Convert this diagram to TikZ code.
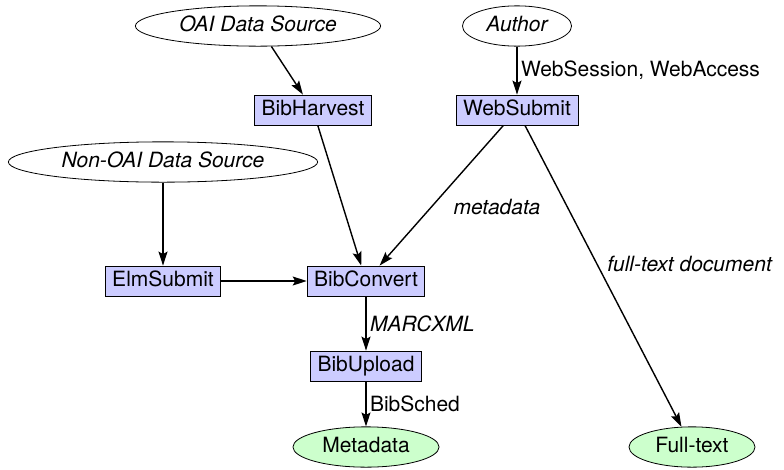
\documentclass[tikz,border=0pt]{standalone}
\usepackage{fontspec}
\setmainfont{TeX Gyre Heros}
\usetikzlibrary{shapes.geometric,arrows.meta}

\definecolor{modblue}{RGB}{204,204,255}
\definecolor{storegreen}{RGB}{204,255,204}
\newcommand{\diagfont}{\fontsize{21}{25}\selectfont}

\tikzset{
  module/.style={draw, line width=0.8pt, fill=modblue, rectangle,
    inner xsep=7pt, minimum height=30pt, text height=15pt, text depth=4pt},
  source/.style={draw, line width=0.8pt, ellipse, inner xsep=8pt,
    inner ysep=4.5pt, text height=15pt, text depth=4.5pt,
    font=\diagfont\itshape},
  store/.style={source, fill=storegreen, font=\diagfont},
  flowlabel/.style={font=\diagfont\itshape}
}

\begin{document}
\begin{tikzpicture}[
        x=1pt, y=-1pt,
        >={Stealth[length=14pt,width=9pt,inset=2.5pt]},
        line width=1.4pt,
        every node/.style={font=\diagfont}
    ]
    \useasboundingbox (0,0) rectangle (784,469);

    % Sources
    \node[source] (oai) at (258,26) {OAI Data Source};
    \node[source] (author) at (517,26) {Author};
    \node[source] (nonoai) at (163,162) {Non-OAI Data Source};

    % Modules
    \node[module] (harvest) at (313,110) {BibHarvest};
    \node[module] (submit) at (517,110) {WebSubmit};
    \node[module] (elm) at (163,281) {ElmSubmit};
    \node[module] (convert) at (366,281) {BibConvert};
    \node[module] (upload) at (366,366) {BibUpload};

    % Stores
    \node[store] (meta) at (366,447) {Metadata};
    \node[store] (fulltext) at (692,447) {Full-text};

    % Harvesting and submission
    \draw[->] (oai) -- (harvest);
    \draw[->]
      (author) -- (submit)
      node[midway, right] {WebSession, WebAccess};
    \draw[->] (nonoai) -- (elm);

    % Into BibConvert
    \draw[->] (harvest) -- (convert);
    \draw[->]
      (submit) -- (convert)
      node[midway, below right, xshift=8pt, flowlabel] {metadata};
    \draw[->] (elm) -- (convert);

    % Upload
    \draw[->]
      (convert) -- (upload)
      node[midway, right, flowlabel] {MARCXML};
    \draw[->]
      (upload) -- (meta)
      node[midway, right] {BibSched};

    % Full text
    \draw[->]
      (submit) -- (fulltext)
      node[midway, above right, flowlabel] {full-text document};
\end{tikzpicture}
\end{document}
